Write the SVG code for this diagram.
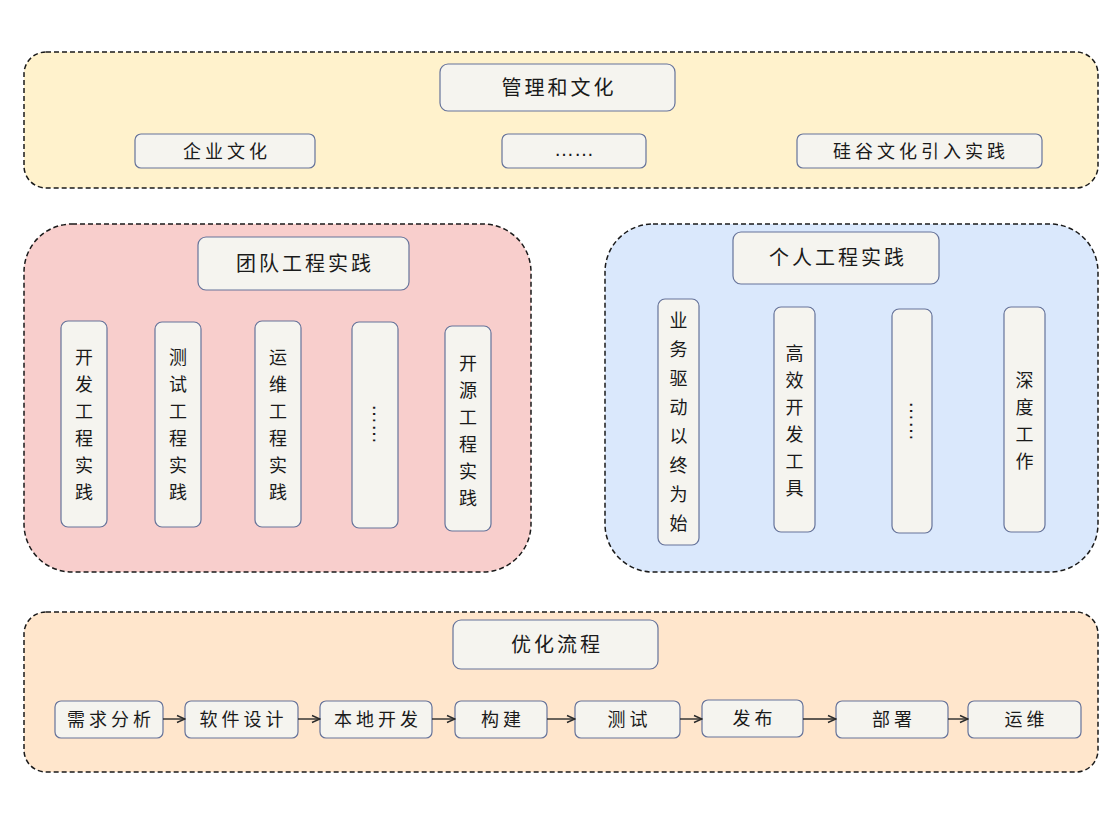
<svg xmlns="http://www.w3.org/2000/svg" width="1118" height="824" viewBox="0 0 1118 824">
<style>
.panel{stroke:#1a1a1a;stroke-width:1.5;stroke-dasharray:5 3}
.node{fill:#f5f4ef;stroke:#66739a;stroke-width:1.2}
.t{font-family:"Noto Sans CJK SC","Noto Sans",sans-serif;fill:#1a1a1a;text-anchor:middle}
.title{font-size:20px;letter-spacing:3px}
.lbl{font-size:18px;letter-spacing:4px}
.v{font-size:18px}
.dots{font-family:"Liberation Sans",sans-serif;font-size:20px;fill:#1a1a1a;text-anchor:middle}
.arr{stroke:#2a2a2a;stroke-width:1.4;fill:none;marker-end:url(#ah)}
</style>
<defs>
<marker id="ah" viewBox="0 0 10 10" refX="9" refY="5" markerWidth="10" markerHeight="10" markerUnits="userSpaceOnUse" orient="auto">
<path d="M1,1.5 L9,5 L1,8.5" fill="none" stroke="#2a2a2a" stroke-width="1.4"/>
</marker>
</defs>
<rect width="1118" height="824" fill="#ffffff"/>

<g id="panel-culture">
<rect class="panel" x="24" y="52" width="1074" height="136" rx="22" fill="#fff2cc"/>
</g>
<g id="panel-team">
<rect class="panel" x="24" y="224" width="507" height="348" rx="48" fill="#f8cecc"/>
</g>
<g id="panel-personal">
<rect class="panel" x="605" y="224" width="493" height="348" rx="48" fill="#dae8fc"/>
</g>
<g id="panel-process">
<rect class="panel" x="24" y="612" width="1074" height="160" rx="22" fill="#ffe6cc"/>
</g>

<g id="n-culture-title"><rect class="node" x="440" y="64" width="235" height="47" rx="8"/><text class="t title" x="559" y="95">管理和文化</text></g>
<g id="n-enterprise"><rect class="node" x="135" y="134" width="180" height="34" rx="6"/><text class="t lbl" x="227" y="158">企业文化</text></g>
<g id="n-culture-more"><rect class="node" x="502" y="134" width="144" height="34" rx="6"/><text class="dots" x="574" y="156">……</text></g>
<g id="n-silicon"><rect class="node" x="797" y="134" width="245" height="34" rx="6"/><text class="t lbl" x="921" y="158">硅谷文化引入实践</text></g>

<g id="n-team-title"><rect class="node" x="198" y="237" width="211" height="53" rx="8"/><text class="t title" x="305" y="271">团队工程实践</text></g>
<g id="n-dev"><rect class="node" x="61" y="321" width="46" height="206" rx="7"/>
<text class="t v"><tspan x="84" y="364">开</tspan><tspan x="84" dy="27">发</tspan><tspan x="84" dy="27">工</tspan><tspan x="84" dy="27">程</tspan><tspan x="84" dy="27">实</tspan><tspan x="84" dy="27">践</tspan></text></g>
<g id="n-test"><rect class="node" x="155" y="322" width="46" height="205" rx="7"/>
<text class="t v"><tspan x="178" y="364">测</tspan><tspan x="178" dy="27">试</tspan><tspan x="178" dy="27">工</tspan><tspan x="178" dy="27">程</tspan><tspan x="178" dy="27">实</tspan><tspan x="178" dy="27">践</tspan></text></g>
<g id="n-ops"><rect class="node" x="255" y="321" width="46" height="206" rx="7"/>
<text class="t v"><tspan x="278" y="364">运</tspan><tspan x="278" dy="27">维</tspan><tspan x="278" dy="27">工</tspan><tspan x="278" dy="27">程</tspan><tspan x="278" dy="27">实</tspan><tspan x="278" dy="27">践</tspan></text></g>
<g id="n-team-more"><rect class="node" x="352" y="322" width="46" height="206" rx="7"/>
<text class="dots" transform="translate(373,424) rotate(90)" x="0" y="0">……</text></g>
<g id="n-oss"><rect class="node" x="445" y="326" width="46" height="205" rx="7"/>
<text class="t v"><tspan x="468" y="370">开</tspan><tspan x="468" dy="27">源</tspan><tspan x="468" dy="27">工</tspan><tspan x="468" dy="27">程</tspan><tspan x="468" dy="27">实</tspan><tspan x="468" dy="27">践</tspan></text></g>

<g id="n-personal-title"><rect class="node" x="733" y="232" width="206" height="52" rx="8"/><text class="t title" x="838" y="265">个人工程实践</text></g>
<g id="n-business"><rect class="node" x="658" y="299" width="41" height="246" rx="7"/>
<text class="t v"><tspan x="678.5" y="327">业</tspan><tspan x="678.5" dy="29">务</tspan><tspan x="678.5" dy="29">驱</tspan><tspan x="678.5" dy="29">动</tspan><tspan x="678.5" dy="29">以</tspan><tspan x="678.5" dy="29">终</tspan><tspan x="678.5" dy="29">为</tspan><tspan x="678.5" dy="29">始</tspan></text></g>
<g id="n-tools"><rect class="node" x="774" y="307" width="41" height="225" rx="7"/>
<text class="t v"><tspan x="794.5" y="360">高</tspan><tspan x="794.5" dy="27">效</tspan><tspan x="794.5" dy="27">开</tspan><tspan x="794.5" dy="27">发</tspan><tspan x="794.5" dy="27">工</tspan><tspan x="794.5" dy="27">具</tspan></text></g>
<g id="n-personal-more"><rect class="node" x="892" y="309" width="40" height="224" rx="7"/>
<text class="dots" transform="translate(910,421) rotate(90)" x="0" y="0">……</text></g>
<g id="n-deep"><rect class="node" x="1004" y="307" width="41" height="225" rx="7"/>
<text class="t v"><tspan x="1024.5" y="387">深</tspan><tspan x="1024.5" dy="27">度</tspan><tspan x="1024.5" dy="27">工</tspan><tspan x="1024.5" dy="27">作</tspan></text></g>

<g id="n-process-title"><rect class="node" x="453" y="620" width="205" height="49" rx="8"/><text class="t title" x="557" y="652">优化流程</text></g>
<g id="p1"><rect class="node" x="55" y="701" width="108" height="37" rx="6"/><text class="t lbl" x="111" y="726">需求分析</text></g>
<g id="p2"><rect class="node" x="185" y="701" width="113" height="37" rx="6"/><text class="t lbl" x="243.5" y="726">软件设计</text></g>
<g id="p3"><rect class="node" x="320" y="701" width="112" height="37" rx="6"/><text class="t lbl" x="378" y="726">本地开发</text></g>
<g id="p4"><rect class="node" x="455" y="701" width="92" height="37" rx="6"/><text class="t lbl" x="503" y="726">构建</text></g>
<g id="p5"><rect class="node" x="575" y="701" width="105" height="37" rx="6"/><text class="t lbl" x="629.5" y="726">测试</text></g>
<g id="p6"><rect class="node" x="702" y="700" width="101" height="37" rx="6"/><text class="t lbl" x="754.5" y="725">发布</text></g>
<g id="p7"><rect class="node" x="836" y="701" width="112" height="37" rx="6"/><text class="t lbl" x="894" y="726">部署</text></g>
<g id="p8"><rect class="node" x="968" y="701" width="113" height="37" rx="6"/><text class="t lbl" x="1026.5" y="726">运维</text></g>

<g id="connectors">
<line class="arr" x1="163" y1="719" x2="185" y2="719"/>
<line class="arr" x1="298" y1="719" x2="320" y2="719"/>
<line class="arr" x1="432" y1="719" x2="455" y2="719"/>
<line class="arr" x1="547" y1="719" x2="575" y2="719"/>
<line class="arr" x1="680" y1="719" x2="702" y2="719"/>
<line class="arr" x1="803" y1="719" x2="836" y2="719"/>
<line class="arr" x1="948" y1="719" x2="968" y2="719"/>
</g>
</svg>
